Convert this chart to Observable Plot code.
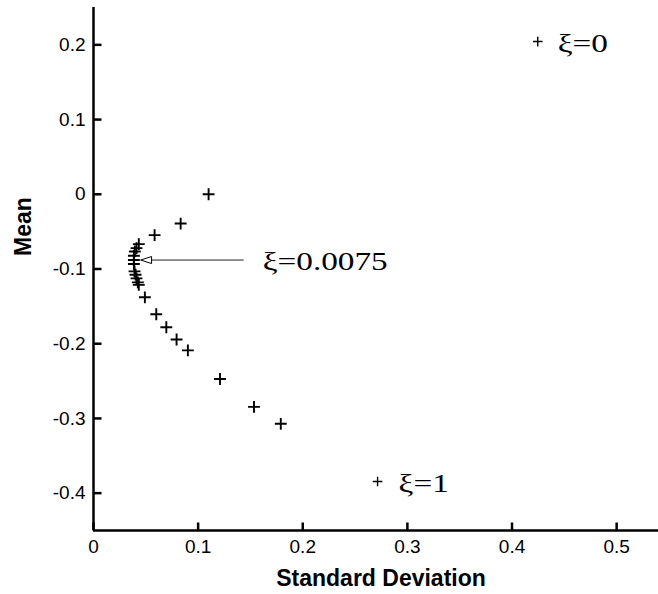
<!DOCTYPE html>
<html>
<head>
<meta charset="utf-8">
<script src="https://cdn.jsdelivr.net/npm/d3@7"></script>
<script src="https://cdn.jsdelivr.net/npm/@observablehq/plot@0.6"></script>
<style>
  html, body { margin: 0; padding: 0; background: white; }
</style>
</head>
<body>
<div id="chart"></div>
<script>
// Series: standard deviation vs mean, ordered along ξ
const sdValues = [0.4246, 0.110, 0.0833, 0.0584, 0.0433, 0.0411, 0.0395, 0.0386, 0.0386, 0.0386, 0.0392, 0.0402, 0.0411, 0.0424, 0.0433, 0.0491, 0.060, 0.0696, 0.0794, 0.0902, 0.1209, 0.1534, 0.179, 0.2715];
const meanValues = [0.2044, 0.0, -0.0392, -0.0547, -0.0667, -0.072, -0.0765, -0.0823, -0.088, -0.0933, -0.1032, -0.1076, -0.1125, -0.1179, -0.1213, -0.1379, -0.1605, -0.1779, -0.1943, -0.2089, -0.2472, -0.2845, -0.3072, -0.3845];
// which points are the small end markers
const endIndex = [0, 23];

// Annotations
const labelTexts = ["ξ=0", "ξ=0.0075", "ξ=1"];
const labelX = [0.4246, 0.1435, 0.2715];
const labelY = [0.2044, -0.088, -0.3845];
const arrowStartX = 0.1435, arrowEndX = 0.0555, arrowTipX = 0.045, arrowY = -0.088;

// Axes
const xTicks = [0, 0.1, 0.2, 0.3, 0.4, 0.5];
const yTicks = [-0.4, -0.3, -0.2, -0.1, 0, 0.1, 0.2];
const xDomain = [0, 0.54];
const yDomain = [-0.45, 0.25];
const xTitle = "Standard Deviation";
const yTitle = "Mean";

const W = 658, H = 594, ML = 93, MR = 0, MT = 7, MB = 64;
const TICK_PX = 8;
// tick lengths expressed in data units of each scale
const xTickLen = TICK_PX * (yDomain[1] - yDomain[0]) / (H - MT - MB);
const yTickLen = TICK_PX * (xDomain[1] - xDomain[0]) / (W - ML - MR);

const points = sdValues.map((s, i) => ({sd: s, mean: meanValues[i], end: endIndex.includes(i)}));
const labels = labelTexts.map((t, i) => ({t, x: labelX[i], y: labelY[i]}));
const labelDx = [20, 19, 21];
const xTickRows = xTicks.map(v => ({v, a: yDomain[0], b: yDomain[0] + xTickLen}));
const yTickRows = yTicks.map(v => ({v, a: xDomain[0], b: xDomain[0] + yTickLen}));

const arrowHead = {
  draw(ctx) {
    ctx.moveTo(0, 0);
    ctx.lineTo(11, -3.5);
    ctx.lineTo(11, 3.5);
    ctx.closePath();
  }
};

const svg = Plot.plot({
  width: W,
  height: H,
  marginLeft: ML,
  marginRight: MR,
  marginTop: MT,
  marginBottom: MB,
  x: {domain: xDomain},
  y: {domain: yDomain},
  style: {fontFamily: "'Liberation Sans', Arial, sans-serif", fontSize: "19px", color: "black", background: "white", overflow: "visible"},
  marks: [
    Plot.axisX({ticks: xTicks, tickSize: 0, tickPadding: 9, tickFormat: d => String(d), label: null, fontSize: 19}),
    Plot.axisY({ticks: yTicks, tickSize: 0, tickPadding: 8, tickFormat: d => String(d), label: null, fontSize: 19}),
    // inward ticks
    Plot.link(xTickRows, {x1: "v", x2: "v", y1: "a", y2: "b", stroke: "black", strokeWidth: 2.5}),
    Plot.link(yTickRows, {y1: "v", y2: "v", x1: "a", x2: "b", stroke: "black", strokeWidth: 2.5}),
    Plot.ruleX([0], {stroke: "black", strokeWidth: 2.5}),
    Plot.ruleY([yDomain[0]], {stroke: "black", strokeWidth: 2.5}),
    Plot.dot(points.filter(d => !d.end), {x: "sd", y: "mean", symbol: "plus", r: 3.9, stroke: "black", strokeWidth: 1.9}),
    Plot.dot(points.filter(d => d.end), {x: "sd", y: "mean", symbol: "plus", r: 3.2, stroke: "black", strokeWidth: 1.4}),
    Plot.link([{x1: arrowStartX, x2: arrowEndX, y: arrowY}], {x1: "x1", x2: "x2", y1: "y", y2: "y", stroke: "#222", strokeWidth: 1}),
    Plot.dot([{x: arrowTipX, y: arrowY}], {x: "x", y: "y", symbol: arrowHead, r: 5, fill: "white", stroke: "black", strokeWidth: 1}),
    ...labels.map((d, i) => Plot.text([d], {x: "x", y: "y", text: "t", dx: labelDx[i], dy: 2, textAnchor: "start", lineAnchor: "middle", fontFamily: "'Liberation Serif', 'Times New Roman', serif", fontSize: 26, fill: "black"})),
    Plot.text([xTitle], {frameAnchor: "bottom", dx: 5, dy: 48, lineAnchor: "middle", fontWeight: "bold", fontSize: 23, fill: "black"}),
    Plot.text([yTitle], {frameAnchor: "left", dx: -70, dy: -13, rotate: -90, lineAnchor: "middle", fontWeight: "bold", fontSize: 23, fill: "black"})
  ]
});

document.getElementById("chart").appendChild(svg);

// horizontal stretch of the serif annotation glyphs, as in the reference
const svgRect = svg.getBoundingClientRect();
svg.querySelectorAll("text").forEach(t => {
  if (!t.textContent.startsWith("ξ")) return;
  const parent = t.parentNode;
  const ctm = parent.getCTM();
  const left = t.getBoundingClientRect().left - svgRect.left - (ctm ? ctm.e : 0);
  const g = document.createElementNS("http://www.w3.org/2000/svg", "g");
  g.setAttribute("transform", `translate(${left},0) scale(1.28,1) translate(${-left},0)`);
  parent.insertBefore(g, t);
  g.appendChild(t);
});
</script>
</body>
</html>
